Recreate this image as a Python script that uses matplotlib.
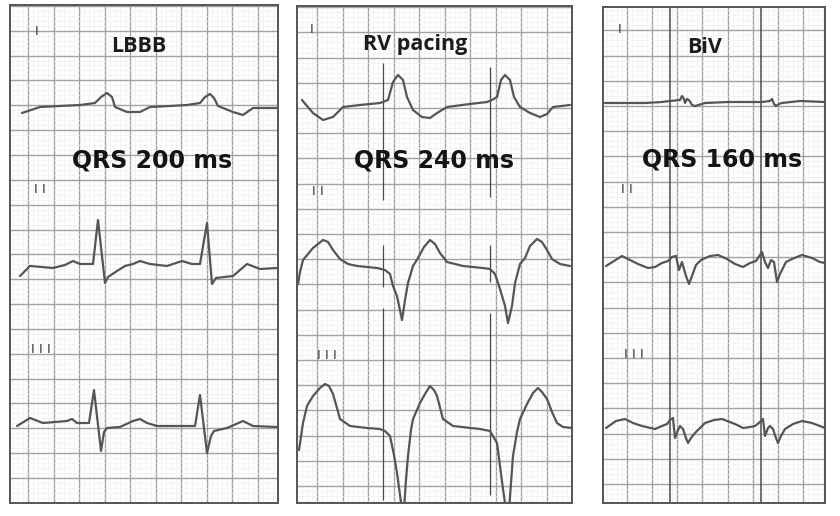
import numpy as np
import matplotlib
matplotlib.use("Agg")
import matplotlib.pyplot as plt

# ---------------- data (ECG paper units: mm, 25 mm/s and 10 mm/mV) ----------------
panel_titles = ["LBBB", "RV pacing", "BiV"]
qrs_ms = [200, 240, 160]
lead_names = ["I", "II", "III"]

# baseline of each lead, mm above strip bottom
lbbb_baselines = [79.6, 47.4, 15.6]
rv_baselines = [79.6, 47.4, 15.0]
biv_baselines = [80.2, 48.2, 15.4]

# ---- LBBB ----
lbbb_I_t = [2.4, 6.0, 10.0, 14.0, 17.0, 18.2, 19.4, 20.4, 21.0, 23.4, 26.0, 28.0, 32.0, 35.4,
            38.0, 39.0, 40.0, 40.8, 41.6, 44.6, 46.6, 48.6, 53.4]
lbbb_I_mm = [-1.6, -0.4, -0.2, 0.0, 0.4, 1.6, 2.4, 1.6, -0.4, -1.4, -1.4, -0.4, -0.2, 0.0,
             0.4, 1.6, 2.2, 1.4, -0.2, -1.4, -2.0, -0.6, -0.6]
lbbb_II_t = [2.0, 4.0, 6.4, 8.6, 11.0, 12.6, 14.0, 16.6, 17.6, 19.0, 19.6, 21.4, 23.0, 24.6,
             26.0, 28.0, 31.4, 34.4, 36.4, 38.0, 39.4, 40.4, 41.2, 44.6, 47.4, 50.0, 53.4]
lbbb_II_mm = [-2.0, 0.0, -0.2, -0.4, 0.2, 1.0, 0.4, 0.4, 9.2, -3.4, -2.2, -1.0, 0.0, 0.4,
              1.0, 0.4, 0.0, 1.0, 0.4, 0.4, 8.6, -3.6, -2.4, -2.0, 0.4, -0.6, -0.4]
lbbb_III_t = [1.4, 4.0, 6.6, 11.4, 12.4, 13.4, 15.8, 16.8, 18.2, 18.8, 19.4, 22.0, 24.6, 26.0,
              27.4, 29.4, 37.0, 38.0, 39.4, 40.2, 40.8, 43.4, 46.6, 48.6, 53.4]
lbbb_III_mm = [-0.2, 1.4, 0.4, 0.8, 1.2, 0.4, 0.4, 7.0, -5.2, -1.4, -0.6, -0.4, 0.8, 1.2,
               0.4, -0.2, -0.2, 6.0, -5.6, -2.2, -1.2, -0.6, 0.8, -0.2, -0.4]

# ---- RV pacing ----
rv_I_t = [1.0, 2.0, 3.2, 5.2, 7.2, 9.2, 12.6, 16.6, 18.2, 19.2, 20.2, 21.2, 22.0, 23.2, 25.0,
          26.6, 28.0, 30.0, 34.6, 38.0, 39.0, 40.0, 40.8, 41.6, 42.6, 43.4, 44.6, 46.6, 48.6,
          50.0, 51.2, 54.6]
rv_I_mm = [1.0, -0.2, -1.6, -3.0, -2.4, -0.4, 0.0, 0.4, 1.0, 4.6, 6.0, 5.0, 1.6, -1.0, -2.4,
           -2.6, -1.6, -0.4, 0.2, 0.6, 1.0, 1.6, 5.0, 6.0, 5.0, 1.6, -0.4, -1.6, -2.4,
           -1.8, -0.4, 0.0]
rv_II_t = [0.2, 0.6, 1.2, 3.2, 5.2, 6.2, 7.2, 8.6, 10.2, 12.0, 16.0, 17.6, 18.6, 19.2, 20.0,
           21.0, 21.6, 22.2, 23.2, 24.2, 25.4, 26.6, 27.6, 28.6, 30.0, 33.2, 37.2, 38.6, 39.6,
           40.6, 41.6, 42.2, 43.0, 43.6, 44.6, 45.6, 46.6, 48.0, 49.0, 50.0, 51.0, 52.6, 54.6]
rv_II_mm = [-3.6, -1.2, 1.2, 3.6, 5.2, 4.8, 3.2, 1.4, 0.4, 0.0, -0.4, -0.8, -1.6, -4.0, -6.0,
            -10.8, -6.8, -3.4, 0.0, 1.6, 3.8, 5.2, 4.4, 2.6, 0.8, 0.0, -0.4, -0.6, -1.6,
            -4.6, -8.0, -11.4, -8.0, -3.4, 0.4, 1.6, 4.0, 5.4, 4.8, 3.2, 1.4, 0.4, 0.0]
rv_III_t = [0.4, 1.2, 2.0, 3.2, 4.6, 5.6, 6.4, 7.2, 8.0, 8.6, 10.6, 14.0, 16.6, 17.6, 18.6,
            19.4, 20.0, 20.6, 21.0, 21.4, 21.8, 22.2, 22.8, 23.2, 24.6, 25.6, 26.6, 27.4, 28.0,
            29.2, 31.2, 36.6, 38.6, 40.0, 41.2, 41.8, 42.4, 43.2, 44.0, 44.6, 46.0, 47.2, 48.2,
            49.0, 50.0, 51.0, 52.0, 53.2, 55.0]
rv_III_mm = [-4.4, 1.0, 4.4, 6.4, 8.0, 8.8, 8.4, 6.8, 4.0, 1.8, 0.4, 0.0, -0.2, -0.6, -1.6,
             -5.4, -9.0, -13.4, -16.4, -16.4, -10.4, -5.6, -0.4, 1.8, 5.0, 6.8, 8.4, 7.6, 6.4,
             1.8, 0.4, -0.2, -0.6, -3.0, -12.2, -16.4, -16.4, -5.6, -0.8, 1.8, 4.8, 7.0, 8.0,
             7.2, 5.8, 3.2, 1.0, 0.2, 0.0]
# pacing spikes (per lead: top / bottom deflection in mm)
rv_pace_t = [17.2, 38.6]
rv_pace_top = [[8.4, 7.6], [4.2, 4.2], [24.0, 23.0]]
rv_pace_bottom = [[-19.0, -18.4], [-4.2, -3.2], [-14.4, -13.4]]

# ---- BiV ----
biv_I_t = [0.4, 3.4, 8.4, 11.8, 13.4, 15.4, 15.8, 16.2, 16.4, 16.8, 17.2, 17.8, 18.4, 20.4,
           25.0, 29.8, 31.8, 33.4, 33.8, 34.2, 34.6, 35.2, 35.8, 39.4, 44.4]
biv_I_mm = [-0.2, -0.2, -0.2, 0.0, 0.2, 0.4, 1.2, 0.6, -0.2, 0.6, 0.4, -0.6, -0.8, -0.2,
            0.0, 0.0, 0.0, 0.2, 0.6, -0.4, -0.8, -0.4, -0.2, 0.2, 0.0]
biv_II_t = [0.6, 2.2, 3.8, 5.4, 7.0, 9.0, 10.4, 11.8, 13.0, 13.8, 14.6, 15.2, 15.8, 16.6, 17.2,
            17.8, 18.6, 19.6, 21.4, 23.0, 24.8, 26.4, 28.0, 29.4, 30.6, 31.8, 32.4, 33.0, 33.6,
            34.2, 34.8, 35.4, 36.6, 37.8, 39.8, 41.8, 43.4, 44.4]
biv_II_mm = [-0.8, 0.2, 1.2, 0.4, -0.4, -1.2, -1.0, -0.2, 0.2, 1.0, 1.2, -1.6, 0.0, -2.8, -4.4,
             -2.8, -0.6, 0.4, 1.2, 1.4, 0.6, -0.4, -1.0, -0.2, 0.2, 2.0, 0.0, -1.2, 0.4,
             0.0, -4.0, -2.4, 0.0, 0.6, 1.4, 0.8, 0.0, -0.2]
biv_III_t = [0.6, 2.6, 4.4, 6.0, 7.8, 10.4, 11.8, 12.8, 13.4, 14.0, 14.4, 15.0, 15.4, 16.0,
             16.6, 17.0, 17.6, 18.4, 20.4, 22.2, 23.8, 26.4, 28.0, 29.4, 30.4, 31.4, 32.0, 32.4,
             33.0, 33.4, 34.0, 34.6, 35.0, 35.6, 36.4, 38.0, 39.8, 41.8, 44.4]
biv_III_mm = [-0.4, 1.0, 1.4, 0.6, 0.0, -0.6, 0.0, 0.4, 1.2, 1.6, -2.4, -0.8, 0.0, -0.6,
              -2.4, -3.4, -2.4, -1.4, 0.6, 1.2, 1.4, 0.4, -0.4, -0.2, 0.0, 0.8, 1.4, -2.0,
              -0.4, 0.0, -0.6, -2.4, -3.4, -2.0, -0.6, 0.4, 1.0, 0.6, -0.4]
biv_pace_t = [13.4, 31.6]

# ---------------- assemble ----------------
panels = [
    dict(title=panel_titles[0], qrs=qrs_ms[0], base=lbbb_baselines,
         traces=[(lbbb_I_t, lbbb_I_mm), (lbbb_II_t, lbbb_II_mm), (lbbb_III_t, lbbb_III_mm)]),
    dict(title=panel_titles[1], qrs=qrs_ms[1], base=rv_baselines,
         traces=[(rv_I_t, rv_I_mm), (rv_II_t, rv_II_mm), (rv_III_t, rv_III_mm)]),
    dict(title=panel_titles[2], qrs=qrs_ms[2], base=biv_baselines,
         traces=[(biv_I_t, biv_I_mm), (biv_II_t, biv_II_mm), (biv_III_t, biv_III_mm)]),
]

# layout (pixels in 840x516 figure) and paper grid geometry
W, H = 840, 516
PX_PER_MM = 5.0
rects = [(10, 5, 278, 503), (297, 6, 572, 503), (603, 7, 825, 503)]
grid_x = [(3.6, 5.11), (4.0, 5.11), (4.8, 5.03)]
grid_y = [(5.0, 4.97), (3.4, 5.04), (3.8, 5.04)]
title_pos = [(25.8, 90.2), (23.6, 90.6), (20.4, 90.0)]
qrs_pos = [(28.4, 67.0), (27.4, 67.0), (23.8, 67.2)]
lead_label_pos = [
    [(5.4, 93.6), (6.0, 62.0), (6.2, 30.0)],
    [(3.0, 94.0), (4.2, 61.6), (6.0, 28.8)],
    [(3.4, 94.0), (4.8, 62.0), (6.2, 29.0)],
]
lead_label_text = ["I", "I I", "I I I"]

TRACE_COLOR = "#555555"

fig = plt.figure(figsize=(W / 100, H / 100), dpi=100)
fig.patch.set_facecolor("white")

for i, p in enumerate(panels):
    l, t, r, b = rects[i]
    ax = fig.add_axes([l / W, 1 - b / H, (r - l) / W, (b - t) / H])
    xmax = (r - l) / PX_PER_MM
    ymax = (b - t) / PX_PER_MM
    ax.set_xlim(0, xmax)
    ax.set_ylim(0, ymax)

    x0, dx = grid_x[i]
    y0, dy = grid_y[i]
    xmaj = np.arange(x0, xmax, dx)
    ymaj = np.arange(y0, ymax, dy)
    xmin_ = np.arange(x0 - dx, xmax, dx / 5)
    ymin_ = np.arange(y0 - dy, ymax, dy / 5)
    ax.set_xticks(xmaj)
    ax.set_yticks(ymaj)
    ax.set_xticks(xmin_[(xmin_ > 0) & (xmin_ < xmax)], minor=True)
    ax.set_yticks(ymin_[(ymin_ > 0) & (ymin_ < ymax)], minor=True)
    ax.tick_params(which="both", length=0, labelbottom=False, labelleft=False)
    ax.grid(which="minor", color="#efefef", lw=0.5)
    ax.grid(which="major", color="#a2a2a2", lw=1.0)
    ax.set_axisbelow(True)

    for spine in ax.spines.values():
        spine.set_color("#555555")
        spine.set_linewidth(1.4)

    # pacing artefacts
    if i == 1:
        for li in range(3):
            for k, tp in enumerate(rv_pace_t):
                ax.vlines(tp, p["base"][li] + rv_pace_bottom[li][k],
                          p["base"][li] + rv_pace_top[li][k],
                          color="#4a4a4a", lw=0.9, zorder=2)
    if i == 2:
        for tp in biv_pace_t:
            ax.axvline(tp, color="#4a4a4a", lw=1.1, zorder=2)

    # traces
    for li, (tt, mm) in enumerate(p["traces"]):
        ax.plot(tt, p["base"][li] + np.asarray(mm), color=TRACE_COLOR, lw=1.6,
                solid_joinstyle="round", solid_capstyle="round", zorder=3)

    # lead labels
    for li in range(3):
        lx, ly = lead_label_pos[i][li]
        ax.text(lx, ly, lead_label_text[li], ha="center", va="baseline",
                fontsize=9.5, color="#3a3a3a", family="DejaVu Sans", zorder=4)

    tx, ty = title_pos[i]
    ax.text(tx, ty, p["title"], ha="center", va="baseline", fontsize=15.5,
            fontweight="bold", family="Open Sans", color="#1c1c1c", zorder=5)
    qx, qy = qrs_pos[i]
    ax.text(qx, qy, f"QRS {p['qrs']} ms", ha="center", va="baseline", fontsize=17,
            fontweight="bold", family="DejaVu Sans", color="#141414", zorder=5)

fig.savefig("out.png", dpi=100, facecolor="white")
